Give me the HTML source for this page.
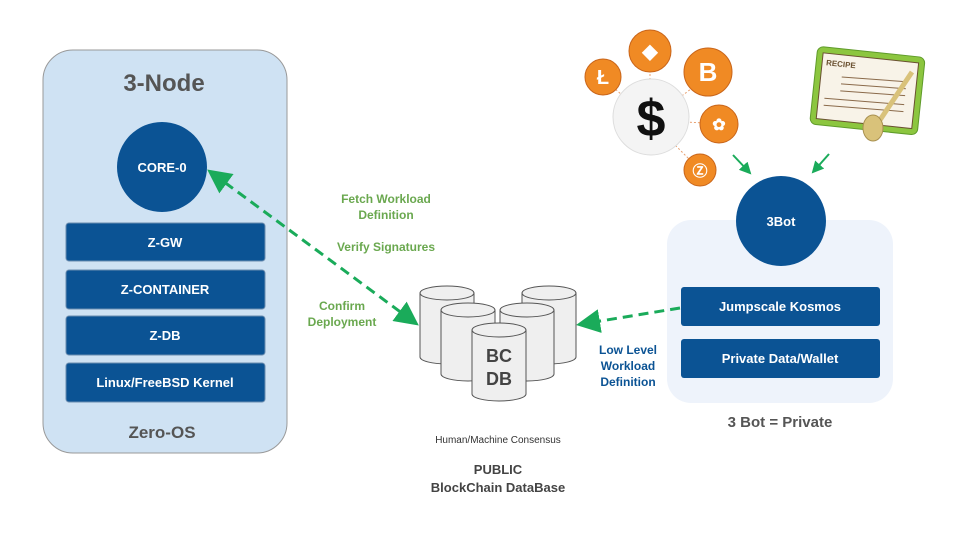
<!DOCTYPE html>
<html><head><meta charset="utf-8"><style>body{margin:0;background:#fff}svg{display:block}text{font-family:"Liberation Sans",sans-serif}</style></head><body>
<svg width="960" height="540" viewBox="0 0 960 540" xmlns="http://www.w3.org/2000/svg">
<defs>
<marker id="ag" markerWidth="8" markerHeight="8" refX="6" refY="4" orient="auto" markerUnits="strokeWidth"><path d="M0,0 L8,4 L0,8 Z" fill="#1aab5a"/></marker>
<marker id="ags" markerWidth="8" markerHeight="8" refX="2" refY="4" orient="auto" markerUnits="strokeWidth"><path d="M8,0 L0,4 L8,8 Z" fill="#1aab5a"/></marker>
<marker id="as" markerWidth="6" markerHeight="6" refX="5" refY="3" orient="auto" markerUnits="strokeWidth"><path d="M0,0 L6,3 L0,6 Z" fill="#1aab5a"/></marker>
</defs>
<rect x="43" y="50" width="244" height="403" rx="30" fill="#cfe2f3" stroke="#999"/>
<text x="164" y="91" font-size="24" font-weight="bold" fill="#555" text-anchor="middle">3-Node</text>
<circle cx="162" cy="167" r="45" fill="#0b5394"/>
<text x="162" y="172" font-size="13" font-weight="bold" fill="#fff" text-anchor="middle">CORE-0</text>
<g fill="#0b5394" stroke="#6a8caf">
<rect x="66" y="223" width="199" height="38" rx="3"/><rect x="66" y="270" width="199" height="39" rx="3"/>
<rect x="66" y="316" width="199" height="39" rx="3"/><rect x="66" y="363" width="199" height="39" rx="3"/></g>
<g font-size="13" font-weight="bold" fill="#fff" text-anchor="middle">
<text x="165" y="247">Z-GW</text><text x="165" y="294">Z-CONTAINER</text><text x="165" y="340">Z-DB</text><text x="165" y="387">Linux/FreeBSD Kernel</text></g>
<text x="162" y="438" font-size="17" font-weight="bold" fill="#555" text-anchor="middle">Zero-OS</text>

<rect x="667" y="220" width="226" height="183" rx="24" fill="#eef3fb"/>
<circle cx="781" cy="221" r="45" fill="#0b5394"/>
<text x="781" y="226" font-size="13" font-weight="bold" fill="#fff" text-anchor="middle">3Bot</text>
<rect x="681" y="287" width="199" height="39" rx="3" fill="#0b5394"/>
<rect x="681" y="339" width="199" height="39" rx="3" fill="#0b5394"/>
<text x="780" y="311" font-size="13" font-weight="bold" fill="#fff" text-anchor="middle">Jumpscale Kosmos</text>
<text x="780" y="363" font-size="13" font-weight="bold" fill="#fff" text-anchor="middle">Private Data/Wallet</text>
<text x="780" y="427" font-size="15" font-weight="bold" fill="#555" text-anchor="middle">3 Bot = Private</text>

<line x1="212" y1="173" x2="414" y2="322" stroke="#1aab5a" stroke-width="3" stroke-dasharray="10,6" marker-start="url(#ags)" marker-end="url(#ag)"/>
<line x1="680" y1="308" x2="582" y2="324" stroke="#1aab5a" stroke-width="3" stroke-dasharray="10,6" marker-end="url(#ag)"/>
<g font-size="12" font-weight="bold" fill="#6aa84f" text-anchor="middle">
<text x="386" y="203">Fetch Workload</text><text x="386" y="219">Definition</text>
<text x="386" y="251">Verify Signatures</text>
<text x="342" y="310">Confirm</text><text x="342" y="326">Deployment</text></g>
<g font-size="12" font-weight="bold" fill="#0b5394" text-anchor="middle">
<text x="628" y="354">Low Level</text><text x="628" y="370">Workload</text><text x="628" y="386">Definition</text></g>

<g fill="#efefef" stroke="#555" stroke-width="1">
<path d="M420,293 v64 a27,7 0 0 0 54,0 v-64"/><ellipse cx="447" cy="293" rx="27" ry="7"/>
<path d="M522,293 v64 a27,7 0 0 0 54,0 v-64"/><ellipse cx="549" cy="293" rx="27" ry="7"/>
<path d="M441,310 v64 a27,7 0 0 0 54,0 v-64"/><ellipse cx="468" cy="310" rx="27" ry="7"/>
<path d="M500,310 v64 a27,7 0 0 0 54,0 v-64"/><ellipse cx="527" cy="310" rx="27" ry="7"/>
<path d="M472,330 v64 a27,7 0 0 0 54,0 v-64"/><ellipse cx="499" cy="330" rx="27" ry="7"/>
</g>
<text x="499" y="362" font-size="18" font-weight="bold" fill="#444" text-anchor="middle">BC</text>
<text x="499" y="385" font-size="18" font-weight="bold" fill="#444" text-anchor="middle">DB</text>
<text x="498" y="443" font-size="10" fill="#333" text-anchor="middle">Human/Machine Consensus</text>
<text x="498" y="474" font-size="13" font-weight="bold" fill="#444" text-anchor="middle">PUBLIC</text>
<text x="498" y="492" font-size="13" font-weight="bold" fill="#444" text-anchor="middle">BlockChain DataBase</text>

<g stroke="#e8a070" stroke-dasharray="2,2"><line x1="650" y1="120" x2="604" y2="79"/><line x1="650" y1="120" x2="650" y2="58"/><line x1="650" y1="120" x2="712" y2="73"/><line x1="650" y1="120" x2="722" y2="124"/><line x1="650" y1="120" x2="700" y2="170"/></g>
<circle cx="651" cy="117" r="38" fill="#f4f4f4" stroke="#ddd"/>
<text x="651" y="136" font-size="52" font-weight="bold" fill="#111" text-anchor="middle">$</text>
<g fill="#f08a24" stroke="#c9651a"><circle cx="603" cy="77" r="18"/><circle cx="650" cy="51" r="21"/><circle cx="708" cy="72" r="24"/><circle cx="719" cy="124" r="19"/><circle cx="700" cy="170" r="16"/></g>
<g fill="#fff" font-weight="bold" text-anchor="middle"><text x="603" y="84" font-size="20">Ł</text><text x="650" y="58" font-size="20">◆</text><text x="708" y="81" font-size="26">B</text><text x="719" y="130" font-size="16">✿</text><text x="700" y="176" font-size="15">Ⓩ</text></g>
<g transform="rotate(6 870 95)">
<rect x="813" y="52" width="108" height="78" rx="6" fill="#8cc63f" stroke="#5f9b2a"/>
<rect x="819" y="58" width="96" height="66" fill="#f8f3e8" stroke="#6a5030"/>
<text x="823" y="70" font-size="8" font-weight="bold" fill="#6a5030">RECIPE</text>
<g stroke="#8a6a4a"><line x1="840" y1="80" x2="905" y2="78"/><line x1="840" y1="87" x2="905" y2="85"/><line x1="840" y1="94" x2="905" y2="92"/><line x1="825" y1="103" x2="905" y2="101"/><line x1="825" y1="110" x2="905" y2="108"/></g>
</g>
<line x1="912" y1="72" x2="880" y2="120" stroke="#d9c27a" stroke-width="5"/>
<ellipse cx="873" cy="128" rx="10" ry="13" fill="#d9c27a" stroke="#a89050"/>
<line x1="733" y1="155" x2="750" y2="173" stroke="#1aab5a" stroke-width="2" marker-end="url(#as)"/>
<line x1="829" y1="154" x2="813" y2="172" stroke="#1aab5a" stroke-width="2" marker-end="url(#as)"/>
</svg>
</body></html>
